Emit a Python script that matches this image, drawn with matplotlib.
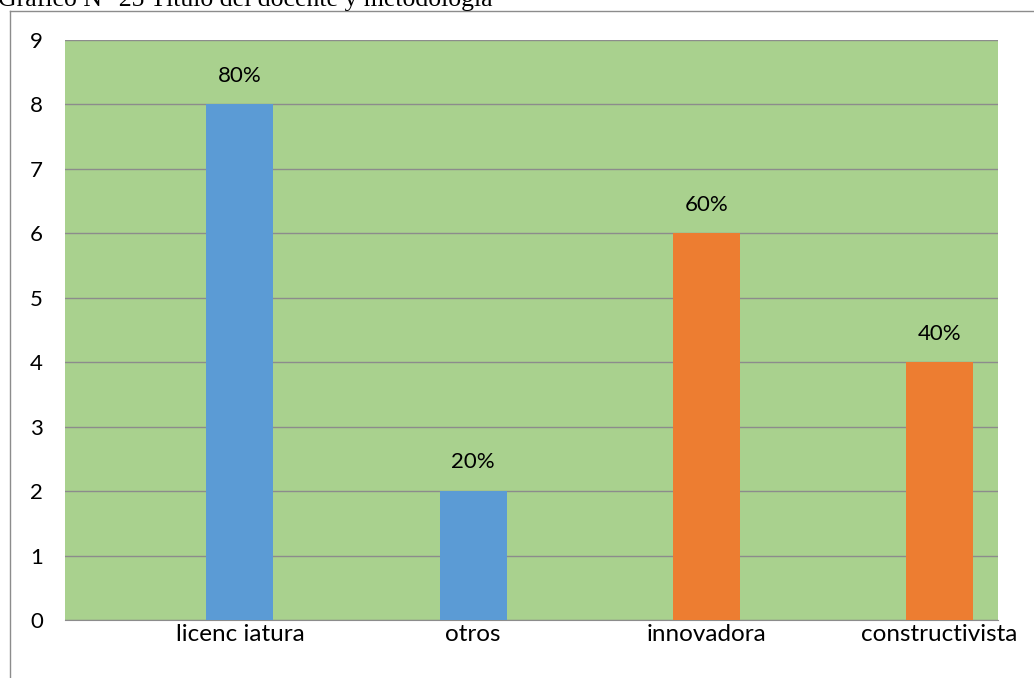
import matplotlib
matplotlib.use("Agg")
import matplotlib.pyplot as plt
from matplotlib.lines import Line2D

categories = ["licenc iatura", "otros", "innovadora", "constructivista"]
values = [8, 2, 6, 4]
labels = ["80%", "20%", "60%", "40%"]
colors = ["#5B9BD5", "#5B9BD5", "#ED7D31", "#ED7D31"]
yticks = list(range(0, 10))
title = "Gráfico N° 25 Título del docente y metodología"

FONT = "Lato"
FS = 16

fig = plt.figure(figsize=(10.34, 6.78), dpi=100)
ax = fig.add_axes([65/1034, 58/678, 933/1034, 580/678])
ax.set_facecolor("#A9D18E")
x = list(range(len(categories)))
ax.bar(x, values, width=0.287, color=colors, zorder=3)
for xi, v, lab in zip(x, values, labels):
    ax.text(xi, v + 0.29, lab, ha="center", va="bottom", fontsize=FS, family=FONT, color="#000000")
ax.set_xlim(-0.75, 3.25)
ax.set_ylim(0, 9)
ax.set_yticks(yticks)
ax.set_yticklabels([str(t) for t in yticks], fontsize=FS, family=FONT)
ax.set_xticks(x)
ax.set_xticklabels(categories, fontsize=17.5, family=FONT)
ax.tick_params(axis="x", length=0, pad=3)
ax.tick_params(axis="y", length=0, pad=16)
ax.grid(axis="y", color="#8C8C8C", linewidth=1, zorder=1)
for s in ["top", "right", "left"]:
    ax.spines[s].set_visible(False)
ax.spines["bottom"].set_color("#8C8C8C")

fig.add_artist(Line2D([10/1034, 10/1034], [0, 1 - 11/678], color="#8C8C8C", lw=1))
fig.add_artist(Line2D([10/1034, 1], [1 - 11/678, 1 - 11/678], color="#8C8C8C", lw=1))
fig.text(-2/1034, 1 - 6/678, title, family="Liberation Serif", fontsize=18.5, va="baseline", ha="left")

fig.savefig("out.png", dpi=100)
